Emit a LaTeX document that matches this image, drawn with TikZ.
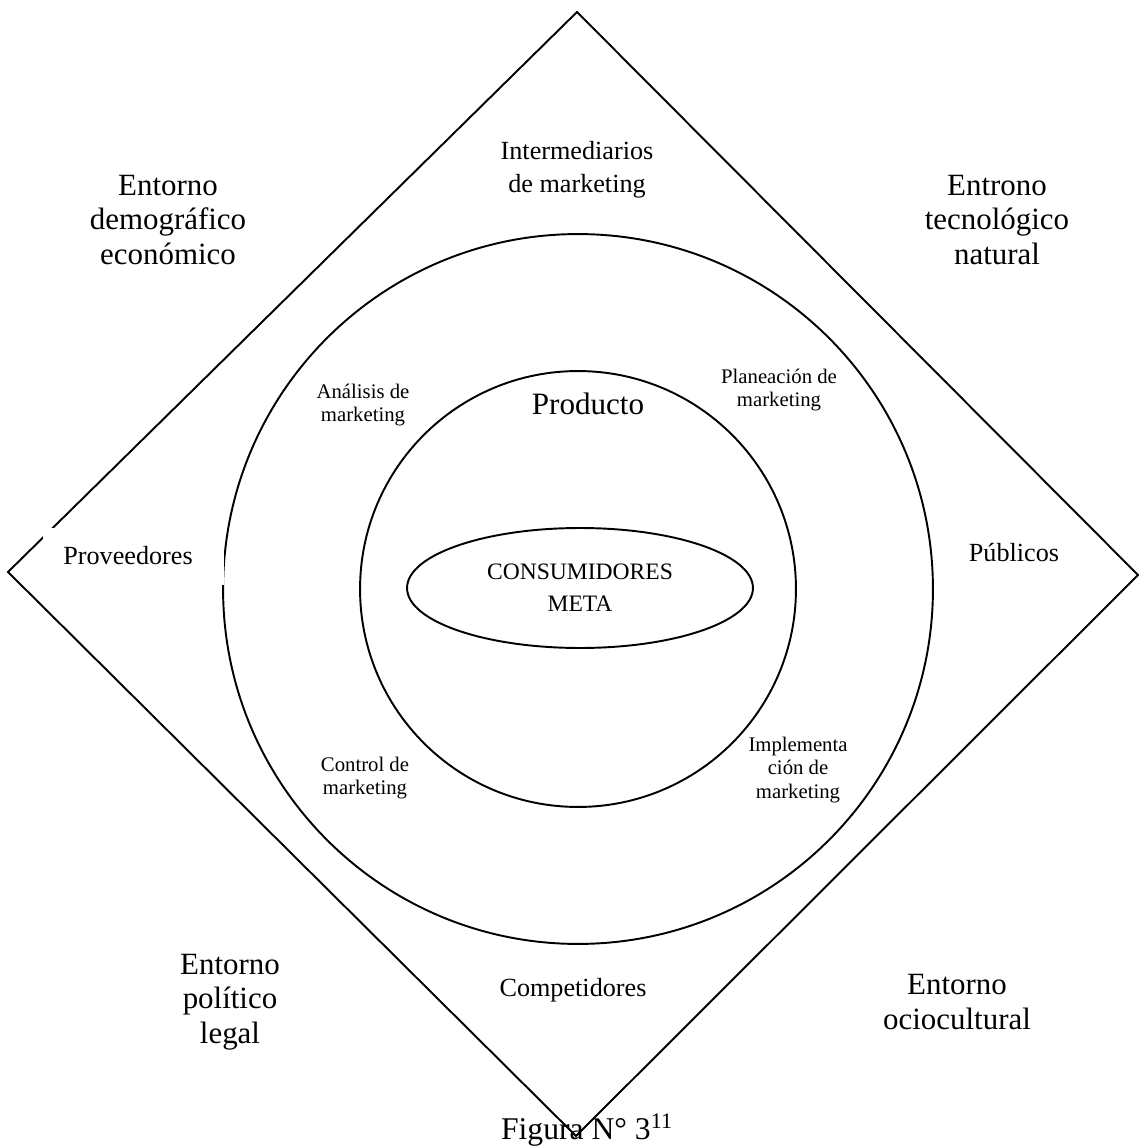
\documentclass[tikz,border=0pt]{standalone}
\usepackage{fontspec}
\setmainfont{Liberation Serif}
\usepackage{tikz}
\usetikzlibrary{shapes.geometric}
\tikzstyle{ring} = [draw=black, line width=1.1pt, circle, inner sep=0pt]
\tikzstyle{entorno} = [align=center, font={\fontsize{17.6}{19.8}\selectfont}]
\tikzstyle{actor} = [align=center, font={\fontsize{14.9}{18.7}\selectfont}]
\tikzstyle{tarea} = [align=center, font={\fontsize{11.8}{13.6}\selectfont}]

\begin{document}
\begin{tikzpicture}[x=0.02cm, y=-0.02cm]
  \useasboundingbox (0,0) rectangle (1138,1148);
  % diamond
  \coordinate (top) at (577,12);
  \coordinate (left) at (8,572);
  \coordinate (right) at (1138,575);
  \coordinate (bottom) at (576,1136);
  \draw[line width=1.1pt, line join=miter] (top) -- (right) -- (bottom) -- (left) -- cycle;
  % circles
  \node[ring, minimum size=14.2cm](outer) at (578,589){};
  \node[ring, minimum size=8.72cm](inner) at (578,589){};
  \node[draw=black, line width=1.1pt, ellipse, minimum width=6.92cm, minimum height=2.4cm, inner sep=0pt,
    align=center, font={\fontsize{13.4}{18}\selectfont}](meta) at (580,588){CONSUMIDORES\\META};
  % white box behind Proveedores
  \fill[white] (43,528) rectangle (224,585);
  % labels
  \node[entorno](demo) at (168,220){Entorno\\demográfico\\económico};
  \node[entorno](tecno) at (997,220){Entrono\\tecnológico\\natural};
  \node[entorno](poli) at (230,1002){Entorno\\político\\legal};
  \node[entorno](socio) at (957,1002){Entorno\\ociocultural};
  \node[actor](inter) at (577,170){Intermediarios\\de marketing};
  \node[actor](prov) at (128,556){Proveedores};
  \node[actor](publ) at (1014,553){Públicos};
  \node[actor](comp) at (573,990){Competidores};
  \node[font={\fontsize{17.7}{20}\selectfont}](prod) at (588,404){Producto};
  \node[tarea](anal) at (363,405){Análisis de\\marketing};
  \node[tarea](plan) at (779,390){Planeación de\\marketing};
  \node[tarea](ctrl) at (365,778){Control de\\marketing};
  \node[tarea](impl) at (798,770){Implementa\\ción de\\marketing};
  \node[font={\fontsize{18}{20}\selectfont}](fig) at (587,1130){Figura N° 3\textsuperscript{11}};
\end{tikzpicture}
\end{document}
